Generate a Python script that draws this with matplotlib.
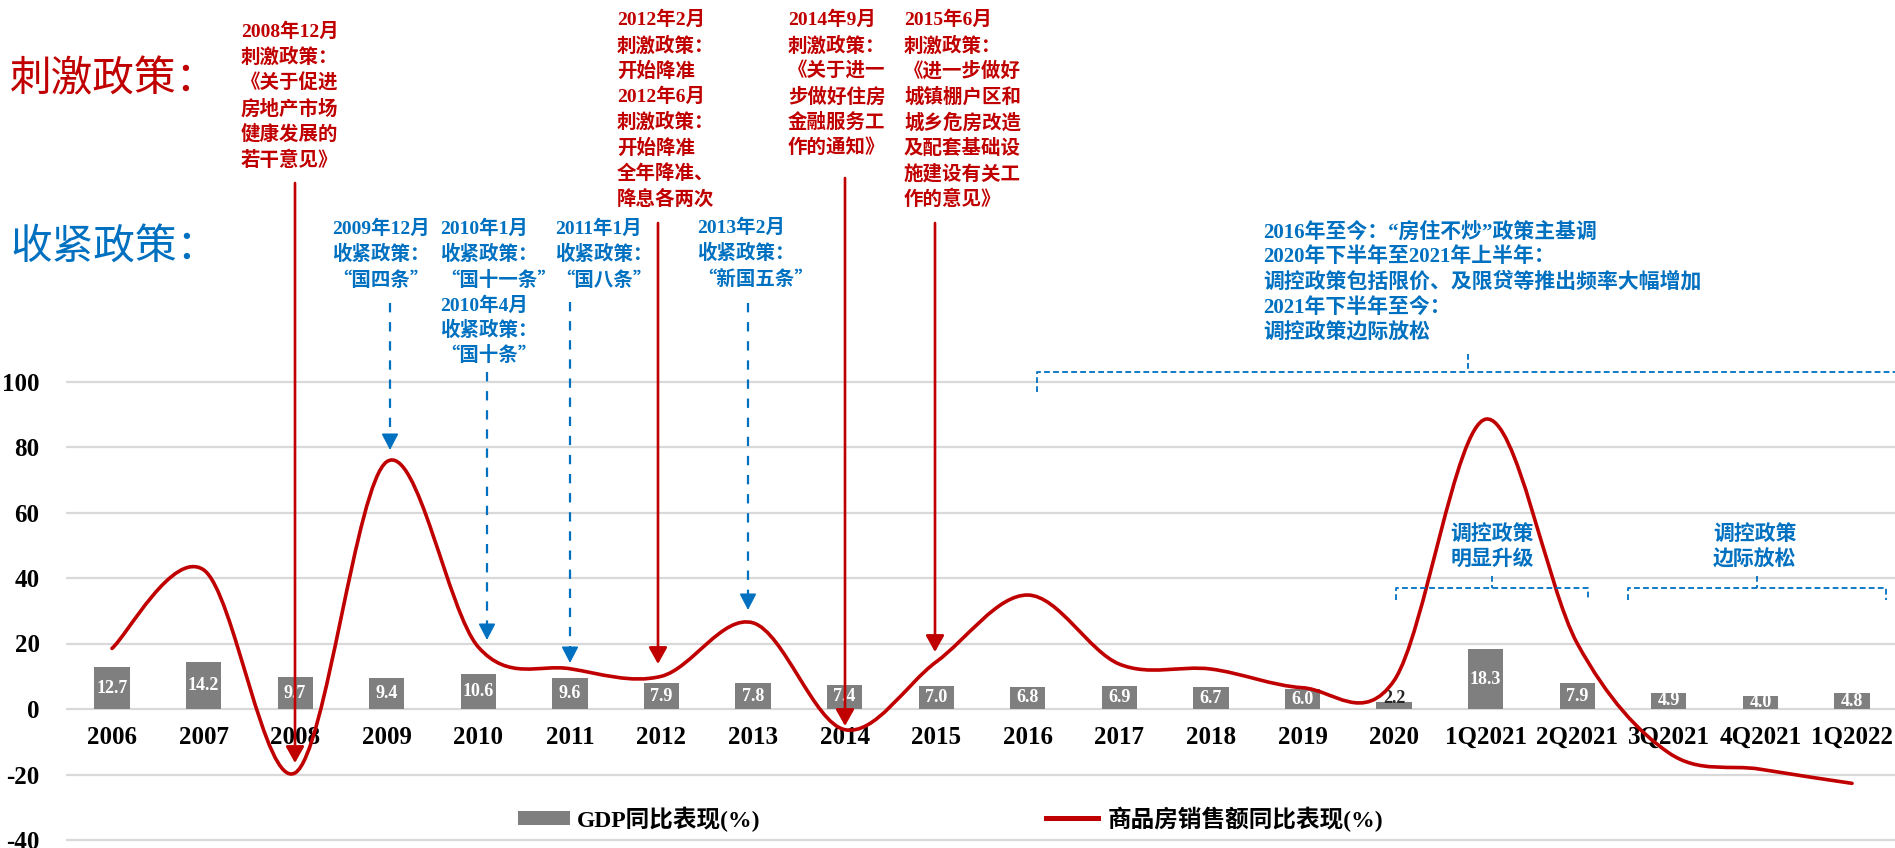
import numpy as np
import matplotlib
matplotlib.use('Agg')
import matplotlib.pyplot as plt
from matplotlib.path import Path
from matplotlib.patches import PathPatch
from matplotlib.lines import Line2D
from matplotlib.font_manager import FontProperties

# ---------------- data ----------------
categories = ['2006', '2007', '2008', '2009', '2010', '2011', '2012', '2013', '2014', '2015',
              '2016', '2017', '2018', '2019', '2020', '1Q2021', '2Q2021', '3Q2021', '4Q2021', '1Q2022']
gdp = [12.7, 14.2, 9.7, 9.4, 10.6, 9.6, 7.9, 7.8, 7.4, 7.0,
       6.8, 6.9, 6.7, 6.0, 2.2, 18.3, 7.9, 4.9, 4.0, 4.8]
sales = [18.5, 42.5, -19.5, 75.5, 18.9, 12.3, 10.0, 26.3, -6.3, 14.4,
         34.8, 13.7, 12.2, 6.5, 8.7, 88.5, 20.0, -13.4, -18.4, -22.7]
yticks = [-40, -20, 0, 20, 40, 60, 80, 100]
legend_labels = ['GDP同比表现(%)', '商品房销售额同比表现(%)']

RED = '#C00000'
BLUE = '#0070C0'
GRAY = '#7F7F7F'
GRID = '#D9D9D9'
SERIF = ['Liberation Serif', 'Noto Sans CJK SC']
CJK = ['Noto Sans CJK SC', 'Liberation Serif']

W, H = 1895, 848
fig = plt.figure(figsize=(W / 100, H / 100), dpi=100)
ax = fig.add_axes([66 / W, 0, 1 - 66 / W, 1])

# pixel <-> data helpers for annotation placement
X0, DX, Y0, DY = 112.0, 91.58, 709.0, 3.275
def dx(px):
    return (px - X0) / DX
def dy(py):
    return (Y0 - py) / DY

ax.set_xlim(dx(66), dx(W))
ax.set_ylim(dy(H), dy(0))
for s in ax.spines.values():
    s.set_visible(False)
ax.set_xticks([])
ax.set_yticks(yticks)
ax.set_yticklabels([str(t) for t in yticks], fontfamily=SERIF, fontweight='bold', fontsize=18)
ax.tick_params(axis='y', length=0, pad=19)
ax.grid(axis='y', color=GRID, lw=1.6)
ax.set_axisbelow(True)

x = np.arange(len(categories))
for i, c in enumerate(categories):
    ax.text(i, dy(737), c, ha='center', va='center', fontfamily=SERIF,
            fontweight='bold', fontsize=18, zorder=3)

# bars
bars = ax.bar(x, gdp, width=0.385, color=GRAY, zorder=2)
for i, v in enumerate(gdp):
    if v >= 3:
        ax.text(i, v / 2, f'{v:.1f}', ha='center', va='center', color='white',
                fontfamily=SERIF, fontweight='bold', fontsize=13, zorder=3)
    else:
        ax.text(i, v + 0.9, f'{v:.1f}', ha='center', va='center', color='#262626',
                fontfamily=SERIF, fontweight='bold', fontsize=13, zorder=3)

# smoothed line (Catmull-Rom Bezier like Excel smooth line)
def smooth_path(xs, ys):
    P = np.column_stack([xs, ys]).astype(float)
    n = len(P)
    verts = [P[0]]
    codes = [Path.MOVETO]
    for i in range(n - 1):
        p0 = P[i - 1] if i > 0 else P[i]
        p1 = P[i]
        p2 = P[i + 1]
        p3 = P[i + 2] if i + 2 < n else P[i + 1]
        verts += [p1 + (p2 - p0) / 6, p2 - (p3 - p1) / 6, p2]
        codes += [Path.CURVE4] * 3
    return Path(verts, codes)

ax.add_patch(PathPatch(smooth_path(x, sales), fc='none', ec=RED, lw=2.6,
                       zorder=4, capstyle='round'))

# red (stimulus) arrows: pixel x, top, tip
HEAD = 'simple'
for px, top, tip in [(295, 183, 763), (658, 223, 664), (845, 178, 726), (935, 223, 652)]:
    ax.annotate('', xy=(dx(px), dy(tip)), xytext=(dx(px), dy(top)),
                arrowprops=dict(arrowstyle='-|>,head_length=0.5,head_width=0.28',
                                color=RED, lw=1.9, shrinkA=0, shrinkB=0, mutation_scale=20),
                annotation_clip=False, zorder=5)

# blue (tightening) dashed arrows
for px, top, tip in [(390, 303, 450), (487, 372, 640), (570, 302, 663), (748, 303, 610)]:
    ax.plot([dx(px), dx(px)], [dy(top), dy(tip - 12)], color=BLUE, lw=1.6,
            linestyle=(0, (4.2, 4.4)), clip_on=False, zorder=5)
    ax.annotate('', xy=(dx(px), dy(tip)), xytext=(dx(px), dy(tip - 15)),
                arrowprops=dict(arrowstyle='-|>,head_length=0.5,head_width=0.26',
                                color=BLUE, lw=1.2, shrinkA=0, shrinkB=0, mutation_scale=20),
                annotation_clip=False, zorder=5)

def block(px, py, lines, color, size, step, ha='left', weight='bold'):
    for k, line in enumerate(lines):
        fam = CJK if line.startswith('“') else SERIF
        ax.text(dx(px), dy(py + k * step), line, ha=ha, va='center', color=color,
                fontfamily=fam, fontweight=weight, fontsize=size, clip_on=False, zorder=6)

# titles
ax.text(dx(10), dy(80), '刺激政策：', ha='left', va='center', color=RED,
        fontfamily=CJK, fontsize=30, clip_on=False)
ax.text(dx(10), dy(248), '收紧政策：', ha='left', va='center', color=BLUE,
        fontfamily=CJK, fontsize=30, clip_on=False)

# red notes
block(241, 31.7, ['2008年12月', '刺激政策：', '《关于促进', '房地产市场', '健康发展的', '若干意见》'], RED, 14, 25.7)
block(617, 20, ['2012年2月', '刺激政策：', '开始降准', '2012年6月', '刺激政策：', '开始降准',
                '全年降准、', '降息各两次'], RED, 14, 25.6)
block(788, 20, ['2014年9月', '刺激政策：', '《关于进一', '步做好住房', '金融服务工', '作的通知》'], RED, 14, 25.6)
block(904, 20, ['2015年6月', '刺激政策：', '《进一步做好', '城镇棚户区和', '城乡危房改造', '及配套基础设',
                '施建设有关工', '作的意见》'], RED, 14, 25.6)

# blue notes
block(332, 229, ['2009年12月', '收紧政策：', '“国四条”'], BLUE, 14, 25.5)
block(440, 229, ['2010年1月', '收紧政策：', '“国十一条”'], BLUE, 14, 25.5)
block(440, 306, ['2010年4月', '收紧政策：', '“国十条”'], BLUE, 14, 24.5)
block(555, 229, ['2011年1月', '收紧政策：', '“国八条”'], BLUE, 14, 25.5)
block(697, 228, ['2013年2月', '收紧政策：', '“新国五条”'], BLUE, 14, 25.5)
block(1263, 232, ['2016年至今：“房住不炒”政策主基调', '2020年下半年至2021年上半年：',
                  '调控政策包括限价、及限贷等推出频率大幅增加', '2021年下半年至今：', '调控政策边际放松'],
      BLUE, 15, 25.3)
block(1492, 535, ['调控政策', '明显升级'], BLUE, 15, 25, ha='center')
block(1755, 535, ['调控政策', '边际放松'], BLUE, 15, 25, ha='center')

# brackets
BR = dict(color=BLUE, lw=1.3, linestyle=(0, (3.2, 1.8)), clip_on=False, zorder=5)
def poly(pts):
    ax.plot([dx(p[0]) for p in pts], [dy(p[1]) for p in pts], **BR)
poly([(1037, 392), (1037, 372), (W, 372)])
poly([(1468, 354), (1468, 372)])
poly([(1396, 600), (1396, 588), (1588, 588), (1588, 600)])
poly([(1492, 576), (1492, 588)])
poly([(1628, 600), (1628, 588), (1886, 588), (1886, 600)])
poly([(1757, 576), (1757, 588)])

# legends
lp = FontProperties(family=SERIF, weight='bold', size=17)
fig.legend([bars], [legend_labels[0]], loc='center left', bbox_to_anchor=(518 / W, 1 - 819 / H),
           frameon=False, prop=lp, handlelength=2.2, handleheight=0.55, handletextpad=0.3,
           borderpad=0, borderaxespad=0)
fig.legend([Line2D([], [], color=RED, lw=3.6)], [legend_labels[1]], loc='center left',
           bbox_to_anchor=(1046 / W, 1 - 819 / H), frameon=False, prop=lp, handlelength=2.2,
           handletextpad=0.42, borderpad=0, borderaxespad=0)

fig.savefig('out.png', dpi=100)
